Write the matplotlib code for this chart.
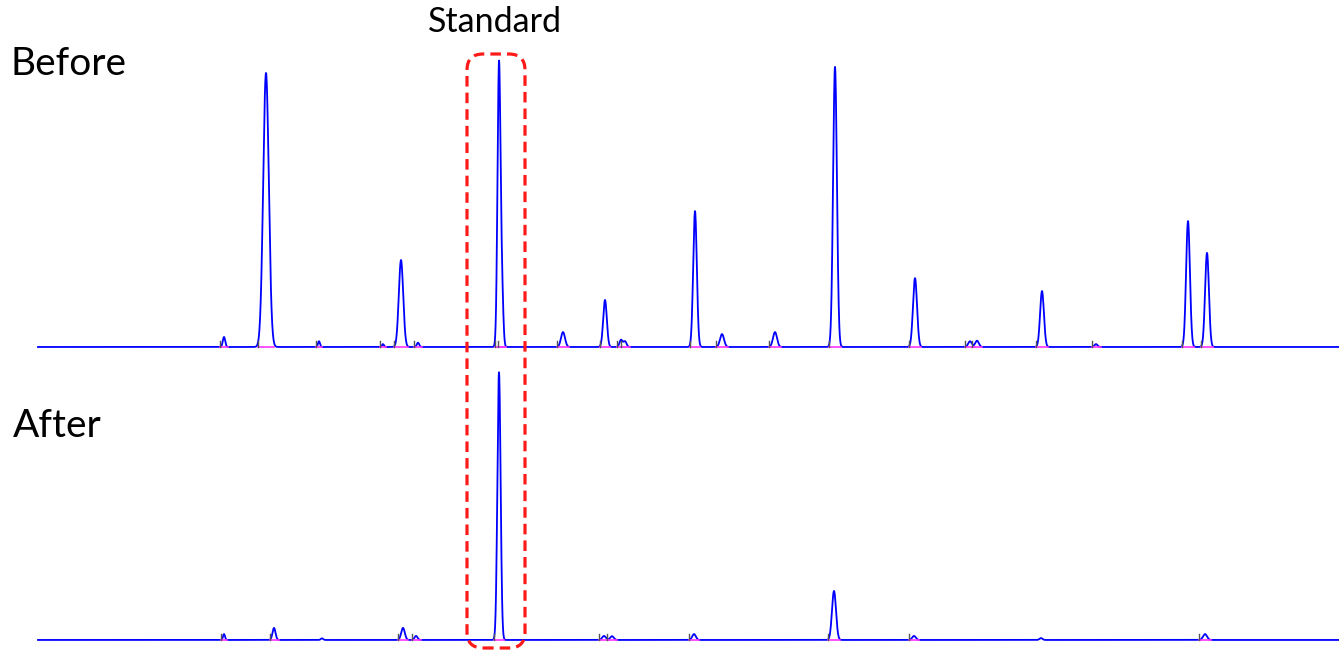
import numpy as np
import matplotlib.pyplot as plt
from matplotlib.patches import FancyBboxPatch

# peak tables (retention position, height %, width)
before_rt = [224, 266, 319, 383, 401, 418, 499, 502, 563, 605, 621, 625, 695, 722, 775, 835, 915, 970, 977, 1042, 1096, 1188, 1207]
before_height = [3.5, 95.5, 2, 1, 30.3, 1.5, 98.5, 18, 5.2, 16.4, 2.5, 2, 47.4, 4.5, 5.2, 97.6, 24, 2, 2.2, 19.5, 1, 43.9, 32.8]
before_width = [1.2, 2.8, 1.0, 1.0, 2.2, 1.2, 1.5, 1.3, 2.0, 1.8, 1.5, 1.5, 1.8, 2.0, 2.0, 1.9, 2.0, 1.8, 1.8, 1.9, 1.5, 1.9, 1.9]

after_rt = [224, 274, 322, 403, 416, 499, 604, 612, 694, 834, 914, 1041, 1205]
after_height = [2.2, 4.5, 0.6, 4.5, 1.5, 100, 1.5, 1.4, 2.2, 18.3, 1.5, 0.7, 2.2]
after_width = [1.0, 1.5, 1.2, 1.8, 1.5, 1.6, 1.8, 1.8, 1.8, 2.0, 1.8, 1.5, 2.0]

labels = ["Before", "After"]
box_label = "Standard"

W, H = 1339, 650
fig = plt.figure(figsize=(W / 100, H / 100), dpi=100)

x = np.linspace(38, 1339, 6000)


def trace(rt, height, width):
    y = np.zeros_like(x)
    for c, h, w in zip(rt, height, width):
        y += h * np.exp(-0.5 * ((x - c) / w) ** 2)
    return y


def draw(ax, rt, height, width):
    y = trace(rt, height, width)
    ax.plot(x, y, color='#0000ff', lw=1.3, solid_joinstyle='round')
    # integration baselines and peak start markers
    for c, h, w in zip(rt, height, width):
        if h < 1:
            continue
        ax.plot([c - 3 * w, c + 3 * w], [0, 0], color='#ff33ff', lw=1.2)
        ax.plot([c - 3 * w, c - 3 * w], [0, 2.2], color='#555555', lw=1)
    ax.set_xlim(0, W)
    ax.set_ylim(-3, 104)
    ax.axis('off')


# axes placed so baselines / tallest peaks land at the right rows
top_bot, top_top = 355.6, 48.5
ax1 = fig.add_axes([0, 1 - top_bot / H, 1, (top_bot - top_top) / H])
draw(ax1, before_rt, before_height, before_width)

bot_bot, bot_top = 648.0, 361.3
ax2 = fig.add_axes([0, 1 - bot_bot / H, 1, (bot_bot - bot_top) / H])
draw(ax2, after_rt, after_height, after_width)

fig.text(10 / W, 1 - 64 / H, labels[0], fontsize=28, family='Lato', va='center', ha='left')
fig.text(13 / W, 1 - 426 / H, labels[1], fontsize=28, family='Lato', va='center', ha='left')
fig.text(495 / W, 1 - 22 / H, box_label, fontsize=24.5, family='Lato', va='center', ha='center')

box = FancyBboxPatch((467 / W, 1 - 648 / H), 58 / W, 594 / H,
                     boxstyle="round,pad=0,rounding_size=0.012",
                     transform=fig.transFigure, fill=False, edgecolor='#ff1a1a',
                     lw=2.3, linestyle=(0, (3.3, 1.9)), mutation_aspect=W / H)
fig.add_artist(box)

plt.savefig("out.png", dpi=100)
